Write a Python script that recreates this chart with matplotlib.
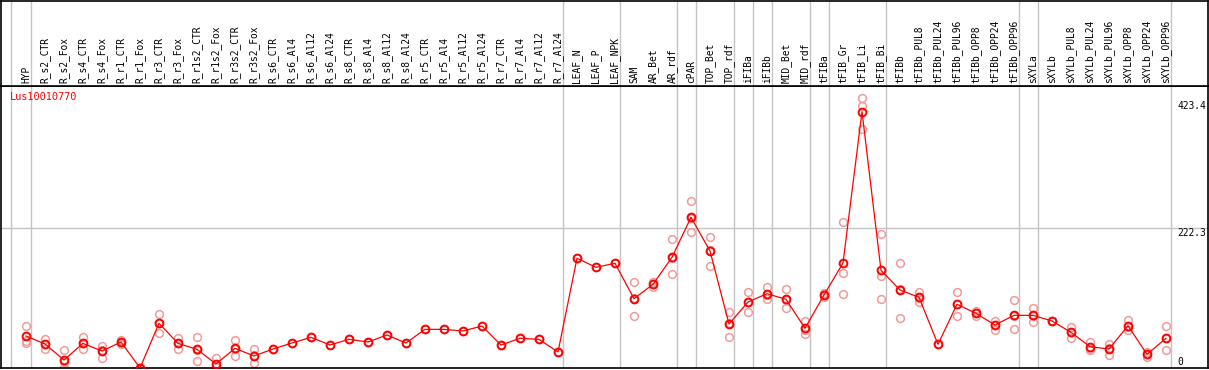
import matplotlib
matplotlib.use("Agg")
import matplotlib.pyplot as plt
import matplotlib.transforms as mtransforms

categories = ["HYP", "R_s2_CTR", "R_s2_Fox", "R_s4_CTR", "R_s4_Fox", "R_r1_CTR", "R_r1_Fox",
              "R_r3_CTR", "R_r3_Fox", "R_r1s2_CTR", "R_r1s2_Fox", "R_r3s2_CTR", "R_r3s2_Fox",
              "R_s6_CTR", "R_s6_Al4", "R_s6_Al12", "R_s6_Al24", "R_s8_CTR", "R_s8_Al4",
              "R_s8_Al12", "R_s8_Al24", "R_r5_CTR", "R_r5_Al4", "R_r5_Al12", "R_r5_Al24",
              "R_r7_CTR", "R_r7_Al4", "R_r7_Al12", "R_r7_Al24", "LEAF_N", "LEAF_P", "LEAF_NPK",
              "SAM", "AR_Bet", "AR_rdf", "cPAR", "TOP_Bet", "TOP_rdf", "iFIBa", "iFIBb",
              "MID_Bet", "MID_rdf", "tFIBa", "tFIB_Gr", "tFIB_Li", "tFIB_Bi", "tFIBb",
              "tFIBb_PUL8", "tFIBb_PUL24", "tFIBb_PUL96", "tFIBb_OPP8", "tFIBb_OPP24",
              "tFIBb_OPP96", "sXYLa", "sXYLb", "sXYLb_PUL8", "sXYLb_PUL24", "sXYLb_PUL96",
              "sXYLb_OPP8", "sXYLb_OPP24", "sXYLb_OPP96"]

means = [50.9, 38.2, 12.7, 39.2, 27, 41.4, 0, 71.1, 39.2, 29.7,
         6.4, 31.3, 19.1, 30.2, 39.8, 48.8, 36.6, 45.6, 41.4, 52.5,
         39.8, 61.5, 61.5, 58.9, 66.8, 36.6, 47.2, 45.6, 25.5, 174.6,
         160.2, 166.6, 110.3, 133.2, 176.2, 239.8, 186.2, 70, 105, 118.2,
         109.3, 63.2, 116.2, 167.1, 407.9, 155.5, 124.1, 112.5, 37.7, 101.4,
         87, 68.4, 83.8, 83.8, 74.8, 56.8, 33.9, 30.2, 67.3, 21.8,
         47.2]

replicates = [
    [66.8, 43, 40.3], [45.6, 30.2, 38.5], [28.1, 0, 10], [48.8, 29.7, 39], [35.5, 16.4, 29],
    [44.6, 38.2, 41.4], [0.5, 0, 0], [85.4, 56.2, 72], [47.2, 30.2, 40], [48.8, 11.1, 29],
    [15.4, 3, 1], [44.6, 18.6, 31], [29.7, 7.4, 20], [30.2], [39.8],
    [48.8], [36.6], [45.6], [41.4], [52.5],
    [39.8], [61.5], [61.5], [58.9], [66.8],
    [36.6], [47.2], [45.6], [25.5], [174.6],
    [160.2], [166.6], [136.4, 82.7, 112], [137.3, 128.4, 134], [204.8, 149.1, 175],
    [265.3, 216, 238], [208, 162.3, 188], [88.6, 48.8, 72], [120.9, 88.6, 105.5], [128.4, 110.3, 116],
    [125.2, 95, 108], [75.3, 53.6, 60.7], [118.9, 112.5, 117], [231.9, 151.7, 117.3], [429.2, 416.9, 379.8],
    [212.8, 145.9, 109.3], [167.1, 79.6, 125.6], [120.9, 105.5, 111], [37.7], [120.5, 82.3, 101.4],
    [91.2, 83.2, 87], [75.3, 61, 69], [107.7, 61.6, 82], [96, 72.7, 83], [75.5, 74.5, 74.8],
    [65.7, 48.2, 56.5], [41.9, 29.1, 30.7], [37.7, 20.7, 32], [76.4, 60.5, 65], [25, 17.5, 23],
    [66.3, 28.1, 47.2]]

separators_after = [-1.03, 0, 28, 31, 34, 35, 37, 38, 39, 41, 42, 45, 52, 53, 60]
ytick_values = [423.4, 222.3, 0]
ytick_labels = ["423.4", "222.3", "0"]
gene = "Lus10010770"

W, H = 1209, 370
PX_PER_CAT = 19.0
X0_PX = 26.0
PX_PER_UNIT = 0.6284


def frac(x0, y0, x1, y1):
    return [x0 / W, 1 - y1 / H, (x1 - x0) / W, (y1 - y0) / H]


fig = plt.figure(figsize=(W / 100, H / 100), dpi=100)
ax = fig.add_axes(frac(1, 86, 1208, 368))
hax = fig.add_axes(frac(1, 0.5, 1208, 86))

xlim = ((1 - X0_PX) / PX_PER_CAT, (1208 - X0_PX) / PX_PER_CAT)
for a in (ax, hax):
    a.set_xlim(*xlim)
    a.set_xticks([])
    a.set_yticks([])
    for s in a.spines.values():
        s.set_color("black")
        s.set_linewidth(1.2)
ax.set_ylim(0, (368 - 86) / PX_PER_UNIT)
hax.set_ylim(0, 1)

grid_color = "#c4c4c4"
for s in separators_after:
    for a in (ax, hax):
        a.axvline(s + 0.24, color=grid_color, lw=1.0, zorder=0)
ax.axhline(ytick_values[1], color=grid_color, lw=1.0, zorder=0)

xs = list(range(len(categories)))

# replicates
for i, reps in enumerate(replicates):
    ax.plot([i] * len(reps), reps, linestyle="none", marker="o", ms=5.6,
            mfc="none", mec="#f09a9a", mew=1.1, zorder=2)

ax.plot(xs, means, color="#ff0000", lw=0.9, zorder=3)
ax.plot(xs, means, linestyle="none", marker="o", ms=5.6, mfc="none",
        mec="#ff0000", mew=1.4, zorder=4)

# header labels
for i, lab in enumerate(categories):
    hax.text(i, 3 / 86, lab, rotation=90, ha="center", va="bottom",
             fontsize=6.9, family="DejaVu Sans Mono", color="black")

# right-side value labels
tick_x = (1177 - X0_PX) / PX_PER_CAT
offsets = [-4.4, -4.4, 6.3]
for v, lab, off in zip(ytick_values, ytick_labels, offsets):
    tr = mtransforms.offset_copy(ax.transData, fig=fig, x=0, y=off * 0.72, units="points")
    ax.text(tick_x, v, lab, transform=tr, ha="left", va="center",
            fontsize=6.9, family="DejaVu Sans Mono", color="black")

ax.text(9 / 1207, 1 - (96.7 - 86) / 282, gene, transform=ax.transAxes,
        ha="left", va="center", fontsize=7.4, family="DejaVu Sans Mono", color="#ff0000")

fig.savefig("out.png", dpi=100)
